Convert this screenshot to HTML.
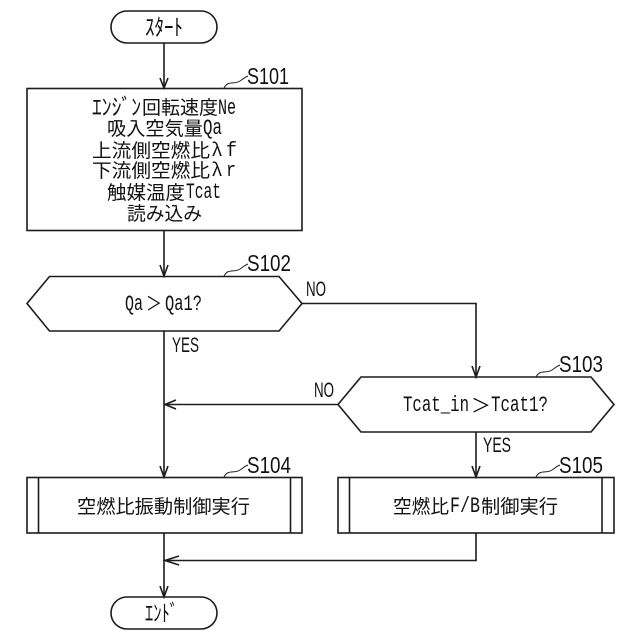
<!DOCTYPE html>
<html lang="ja">
<head>
<meta charset="utf-8">
<title>Flowchart</title>
<style>
html,body{margin:0;padding:0;background:#fff;width:640px;height:640px;overflow:hidden}
svg{display:block}
.j{font-family:"Liberation Sans","Noto Sans CJK JP",sans-serif;font-size:19px;fill:#111}
.g{font-family:"Noto Sans CJK JP",sans-serif;font-size:18px;fill:#111}
.l{font-family:"Liberation Mono",monospace;font-size:22px;fill:#111}
.m{font-family:"Liberation Mono",monospace;font-size:20px;fill:#111}
.s{font-family:"Liberation Sans",sans-serif;font-size:23px;fill:#111}
.n{font-family:"Liberation Sans",sans-serif;font-size:21px;fill:#111}
.k{font-family:"Liberation Sans","Noto Sans CJK JP",sans-serif;font-size:23px;fill:#111}
</style>
</head>
<body>
<svg width="640" height="640" viewBox="0 0 640 640" xmlns="http://www.w3.org/2000/svg">
<rect width="640" height="640" fill="#fff"/>
<g fill="none" stroke="#1c1c1c" stroke-width="1.6">
  <rect x="111" y="11" width="106" height="32" rx="16" ry="16"/>
  <rect x="111" y="597" width="106" height="32" rx="16" ry="16"/>
  <rect x="27" y="88.500" width="275" height="142"/>
  <polygon points="27,303.500 49.500,276.500 279,276.500 302,303.500 279,331 49.500,331"/>
  <polygon points="338,404.500 361,377 591,377 614,404.500 591,432 361,432"/>
  <rect x="27" y="477.500" width="275" height="55.500"/>
  <line x1="38.500" y1="477.500" x2="38.500" y2="533"/>
  <line x1="290.500" y1="477.500" x2="290.500" y2="533"/>
  <rect x="338" y="477.500" width="276" height="55.500"/>
  <line x1="349.500" y1="477.500" x2="349.500" y2="533"/>
  <line x1="602" y1="477.500" x2="602" y2="533"/>
  <line x1="164" y1="43" x2="164" y2="88"/>
  <line x1="164" y1="230" x2="164" y2="276"/>
  <line x1="164" y1="331" x2="164" y2="477"/>
  <line x1="164" y1="533" x2="164" y2="597"/>
  <polyline points="302,303.500 476,303.500 476,377"/>
  <line x1="338" y1="404.500" x2="164" y2="404.500"/>
  <line x1="476" y1="432" x2="476" y2="477"/>
  <polyline points="476,533 476,560.500 164,560.500"/>
  <polyline points="160,78 164,88 168,78"/>
  <polyline points="160,265 164,276 168,265"/>
  <polyline points="160,466 164,477 168,466"/>
  <polyline points="160,586 164,597 168,586"/>
  <polyline points="472,366 476,377 480,366"/>
  <polyline points="472,466 476,477 480,466"/>
  <polyline points="176,400 165,404.500 176,409"/>
  <polyline points="179,556 165,560.500 179,565"/>
  <g stroke-width="1">
    <path d="M224,88 C228,80 234,85 240,81 C243,79 245,77 248,76"/>
    <path d="M224,276 C228,268 234,273 240,269 C243,267 245,265 248,264"/>
    <path d="M536,377 C540,369 546,374 552,370 C555,368 557,366 560,365"/>
    <path d="M224,477 C228,469 234,474 240,470 C243,468 245,466 248,465"/>
    <path d="M536,477 C540,469 546,474 552,470 C555,468 557,466 560,465"/>
  </g>
</g>
<g>
  <text class="k" x="145" y="35" textLength="38" lengthAdjust="spacingAndGlyphs">ｽﾀｰﾄ</text>
  <text class="k" x="145" y="621" textLength="33" lengthAdjust="spacingAndGlyphs">ｴﾝﾄﾞ</text>

  <text class="k" x="92" y="115" textLength="49" lengthAdjust="spacingAndGlyphs">ｴﾝｼﾞﾝ</text>
  <text class="j" x="142" y="114" textLength="76" lengthAdjust="spacingAndGlyphs">回転速度</text>
  <text class="l" x="218" y="114" textLength="18" lengthAdjust="spacingAndGlyphs">Ne</text>

  <text class="j" x="107" y="135" textLength="96" lengthAdjust="spacingAndGlyphs">吸入空気量</text>
  <text class="l" x="203" y="134" textLength="19" lengthAdjust="spacingAndGlyphs">Qa</text>

  <text class="j" x="92" y="157" textLength="118" lengthAdjust="spacingAndGlyphs">上流側空燃比</text>
  <text class="g" x="212" y="156">λ</text>
  <text class="m" x="226" y="156" textLength="11" lengthAdjust="spacingAndGlyphs">f</text>

  <text class="j" x="92" y="177" textLength="118" lengthAdjust="spacingAndGlyphs">下流側空燃比</text>
  <text class="g" x="212" y="176">λ</text>
  <text class="m" x="226" y="176" textLength="10" lengthAdjust="spacingAndGlyphs">r</text>

  <text class="j" x="107" y="199" textLength="78" lengthAdjust="spacingAndGlyphs">触媒温度</text>
  <text class="l" x="186" y="198" textLength="35" lengthAdjust="spacingAndGlyphs">Tcat</text>

  <text class="j" x="127" y="220" textLength="75" lengthAdjust="spacingAndGlyphs">読み込み</text>

  <text class="l" x="125" y="310" textLength="18" lengthAdjust="spacingAndGlyphs">Qa</text>
  <text class="j" x="146" y="310" textLength="16" lengthAdjust="spacingAndGlyphs">＞</text>
  <text class="l" x="165" y="310" textLength="37" lengthAdjust="spacingAndGlyphs">Qa1?</text>

  <text class="l" x="403" y="411" textLength="66" lengthAdjust="spacingAndGlyphs">Tcat_in</text>
  <text class="j" x="471" y="412" textLength="20" lengthAdjust="spacingAndGlyphs">＞</text>
  <text class="l" x="491" y="411" textLength="57" lengthAdjust="spacingAndGlyphs">Tcat1?</text>

  <text class="j" x="77" y="513" textLength="173" lengthAdjust="spacingAndGlyphs">空燃比振動制御実行</text>

  <text class="j" x="393" y="513" textLength="56" lengthAdjust="spacingAndGlyphs">空燃比</text>
  <text class="l" x="450" y="512" textLength="30" lengthAdjust="spacingAndGlyphs">F/B</text>
  <text class="j" x="481" y="513" textLength="77" lengthAdjust="spacingAndGlyphs">制御実行</text>

  <text class="n" x="306" y="296" textLength="20" lengthAdjust="spacingAndGlyphs">NO</text>
  <text class="n" x="314" y="397" textLength="20" lengthAdjust="spacingAndGlyphs">NO</text>
  <text class="n" x="172" y="352" textLength="27" lengthAdjust="spacingAndGlyphs">YES</text>
  <text class="n" x="483" y="452" textLength="28" lengthAdjust="spacingAndGlyphs">YES</text>

  <text class="s" x="247" y="84" textLength="42" lengthAdjust="spacingAndGlyphs">S101</text>
  <text class="s" x="247" y="271" textLength="44" lengthAdjust="spacingAndGlyphs">S102</text>
  <text class="s" x="559" y="372" textLength="44" lengthAdjust="spacingAndGlyphs">S103</text>
  <text class="s" x="247" y="473" textLength="44" lengthAdjust="spacingAndGlyphs">S104</text>
  <text class="s" x="559" y="473" textLength="44" lengthAdjust="spacingAndGlyphs">S105</text>
</g>
</svg>
</body>
</html>
